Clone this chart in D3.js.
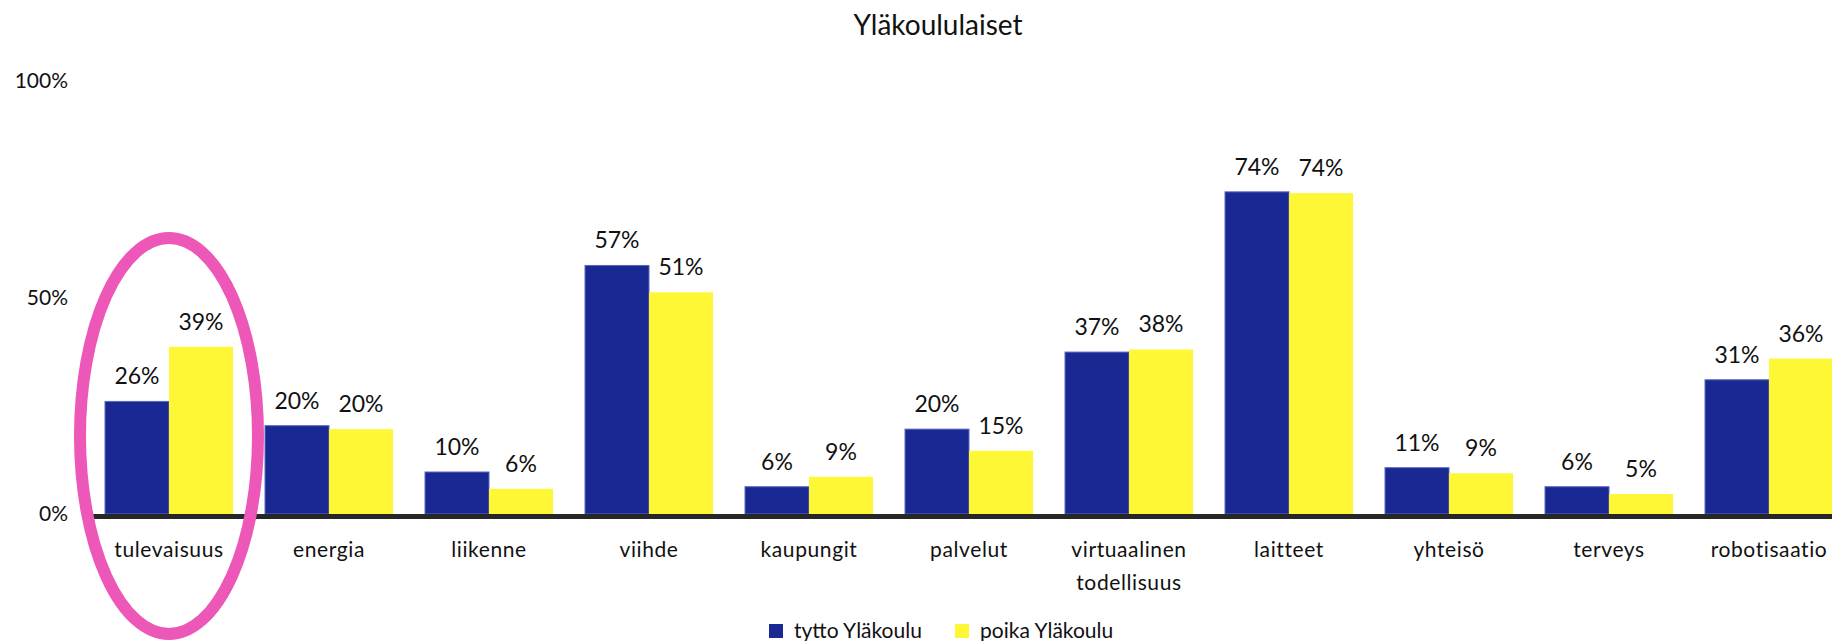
<!DOCTYPE html>
<html>
<head>
<meta charset="utf-8">
<script src="https://cdn.jsdelivr.net/npm/d3@7"></script>
<style>
  body { margin: 0; background: #fff; }
  text { font-family: Lato, "Open Sans", sans-serif; fill: #111; }
</style>
</head>
<body>
<svg id="chart"></svg>
<script>
const categories = ['tulevaisuus', 'energia', 'liikenne', 'viihde', 'kaupungit', 'palvelut',
  'virtuaalinen todellisuus', 'laitteet', 'yhteisö', 'terveys', 'robotisaatio'];
const seriesNames = ['tytto Yläkoulu', 'poika Yläkoulu'];
const tytto = [0.26, 0.204, 0.097, 0.574, 0.063, 0.196, 0.374, 0.744, 0.107, 0.063, 0.31];
const poika = [0.386, 0.196, 0.058, 0.512, 0.086, 0.146, 0.38, 0.741, 0.094, 0.046, 0.359];
const yTicks = [0, 0.5, 1];
const colors = ['#1a2894', '#fdf735'];

const width = 1832, height = 641;
const svg = d3.select('#chart')
  .attr('width', width)
  .attr('height', height);

const x = d3.scaleBand()
  .domain(categories)
  .range([89, 1849])
  .paddingInner(0.2)
  .paddingOuter(0.1);

const xInner = d3.scaleBand()
  .domain(seriesNames)
  .range([0, x.bandwidth()]);

const y = d3.scaleLinear()
  .domain([0, 1])
  .range([514, 81]);

// title
svg.append('text')
  .attr('x', 938)
  .attr('y', 35)
  .attr('text-anchor', 'middle')
  .style('font-size', '28px')
  .text('Yläkoululaiset');

// y tick labels (no gridlines)
svg.selectAll('.ytick')
  .data(yTicks)
  .enter()
  .append('text')
  .attr('class', 'ytick')
  .attr('x', 68)
  .attr('y', d => y(d) + 7)
  .attr('text-anchor', 'end')
  .style('font-size', '21px')
  .text(d3.format('.0%'));

const rows = categories.map((c, i) => ({ cat: c, vals: [tytto[i], poika[i]] }));

const groups = svg.selectAll('.grp')
  .data(rows)
  .enter()
  .append('g')
  .attr('transform', d => `translate(${x(d.cat)},0)`);

const cells = groups.selectAll('.cell')
  .data(d => d.vals.map((v, j) => ({ name: seriesNames[j], v: v, j: j })))
  .enter();

cells.append('rect')
  .attr('x', d => xInner(d.name))
  .attr('y', d => y(d.v))
  .attr('width', xInner.bandwidth())
  .attr('height', d => y(0) - y(d.v))
  .attr('fill', d => colors[d.j])
  .attr('stroke', d => d.j === 0 ? '#5a68c0' : 'none')
  .attr('stroke-width', 1);

cells.append('text')
  .attr('x', d => xInner(d.name) + xInner.bandwidth() / 2)
  .attr('y', d => y(d.v) - 17)
  .attr('text-anchor', 'middle')
  .style('font-size', '23px')
  .text(d => Math.round(d.v * 100) + '%');

// baseline
svg.append('line')
  .attr('x1', 90)
  .attr('x2', width)
  .attr('y1', y(0) + 2.5)
  .attr('y2', y(0) + 2.5)
  .attr('stroke', '#262626')
  .attr('stroke-width', 5);

// category labels
const catLabels = svg.selectAll('.cat')
  .data(categories)
  .enter()
  .append('text')
  .attr('class', 'cat')
  .attr('text-anchor', 'middle')
  .attr('y', 557)
  .style('font-size', '21px')
  .style('letter-spacing', '0.6px');

catLabels.selectAll('tspan')
  .data(d => d.split(' ').map(w => ({ w: w, c: d })))
  .enter()
  .append('tspan')
  .attr('x', d => x(d.c) + x.bandwidth() / 2)
  .attr('dy', (d, i) => i === 0 ? 0 : 33)
  .text(d => d.w);

// highlight ring around first category
svg.append('ellipse')
  .attr('cx', x(categories[0]) + x.bandwidth() / 2)
  .attr('cy', 436)
  .attr('rx', 89)
  .attr('ry', 198)
  .attr('fill', 'none')
  .attr('stroke', '#ec57b8')
  .attr('stroke-width', 12);

// legend
const legendX = [769, 955];
const legend = svg.selectAll('.leg')
  .data(seriesNames)
  .enter()
  .append('g')
  .attr('transform', (d, i) => `translate(${legendX[i]},624)`);

legend.append('rect')
  .attr('width', 14)
  .attr('height', 14)
  .attr('fill', (d, i) => colors[i]);

legend.append('text')
  .attr('x', 25)
  .attr('y', 14)
  .style('font-size', '21px')
  .text(d => d);
</script>
</body>
</html>
